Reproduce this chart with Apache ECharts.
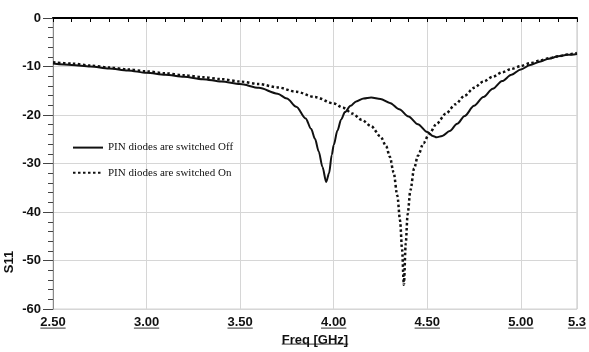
<!DOCTYPE html>
<html><head><meta charset="utf-8">
<script src="https://cdn.jsdelivr.net/npm/echarts@6/dist/echarts.min.js"></script>
<style>html,body{margin:0;padding:0;background:#fff}#c{width:589px;height:352px}</style>
</head><body><div id="c"></div>
<script>
// Reflection coefficient S11 (dB) versus frequency (GHz) for the two diode states
const seriesNames = ['PIN diodes are switched Off', 'PIN diodes are switched On'];

const freqOff = [2.50,2.60,2.70,2.80,2.90,3.00,3.10,3.20,3.30,3.40,3.50,3.60,3.70,3.75,3.80,3.85,3.88,3.90,3.92,3.94,3.96,3.975,3.99,4.00,4.02,4.04,4.06,4.09,4.12,4.16,4.20,4.25,4.30,4.35,4.40,4.45,4.50,4.53,4.55,4.58,4.62,4.66,4.70,4.75,4.80,4.85,4.90,4.95,5.00,5.05,5.10,5.15,5.20,5.25,5.30];
const s11Off  = [-9.4,-9.7,-10.0,-10.4,-10.8,-11.3,-11.7,-12.1,-12.6,-13.1,-13.6,-14.4,-15.6,-16.6,-18.3,-20.7,-22.9,-24.9,-27.5,-30.7,-33.8,-32.0,-28.2,-26.2,-23.2,-20.9,-19.4,-18.1,-17.2,-16.6,-16.4,-16.7,-17.5,-18.8,-20.3,-21.9,-23.5,-24.3,-24.6,-24.3,-23.3,-21.8,-20.2,-18.1,-16.3,-14.6,-13.0,-11.7,-10.6,-9.7,-9.0,-8.4,-7.9,-7.6,-7.4];

const freqOn = [2.50,2.60,2.70,2.80,2.90,3.00,3.10,3.20,3.30,3.40,3.50,3.60,3.70,3.80,3.90,4.00,4.05,4.10,4.15,4.20,4.25,4.28,4.30,4.32,4.34,4.355,4.365,4.375,4.385,4.395,4.41,4.43,4.45,4.48,4.51,4.55,4.60,4.65,4.70,4.75,4.80,4.85,4.90,4.95,5.00,5.05,5.10,5.15,5.20,5.25,5.30];
const s11On  = [-9.1,-9.4,-9.8,-10.2,-10.6,-11.0,-11.4,-11.8,-12.2,-12.6,-13.1,-13.6,-14.3,-15.2,-16.3,-17.6,-18.5,-19.7,-21.0,-22.3,-24.4,-26.4,-28.6,-31.8,-36.6,-41.8,-47.5,-55.0,-46.5,-40.5,-35.5,-31.0,-28.4,-25.8,-23.9,-21.8,-19.7,-17.8,-16.0,-14.4,-13.1,-12.1,-11.2,-10.5,-9.9,-9.3,-8.8,-8.3,-7.9,-7.5,-7.2];

const xLabelValues = [2.5, 3.0, 3.5, 4.0, 4.5, 5.0, 5.3];
const xLabelTexts  = ['2.50', '3.00', '3.50', '4.00', '4.50', '5.00', '5.3'];

const tickFont = '"Liberation Sans Narrow","Arial Narrow","Liberation Sans",Arial,sans-serif';
const tickSize = 13;

function toPairs(xs, ys) { return xs.map((x, i) => [x, ys[i]]); }

function xLabel(v) {
  for (let i = 0; i < xLabelValues.length; i++) {
    if (Math.abs(v - xLabelValues[i]) < 1e-6) return xLabelTexts[i];
  }
  return '';
}

const chart = echarts.init(document.getElementById('c'), null, { renderer: 'canvas' });

const option = {
  animation: false,
  backgroundColor: '#fff',
  grid: { left: 53, right: 8, top: 18, bottom: 39, show: true, borderColor: '#c8c8c8', borderWidth: 1 },
  legend: {
    orient: 'vertical', left: 67, top: 137, itemWidth: 30, itemHeight: 14, itemGap: 14,
    textStyle: { fontFamily: '"Liberation Serif","Times New Roman",serif', fontSize: 11, color: '#111' },
    itemStyle: { opacity: 0 },
    data: seriesNames
  },
  xAxis: [{
    type: 'value', min: 2.5, max: 5.3, interval: 0.1, position: 'bottom',
    axisLine: { show: true, lineStyle: { color: '#000', width: 2 } },
    axisTick: { show: true, length: 4, lineStyle: { color: '#000', width: 1 } },
    splitLine: { show: false },
    axisLabel: { show: true, margin: 7, formatter: xLabel, color: '#111', fontFamily: tickFont, fontWeight: 'bold', fontSize: tickSize, showMaxLabel: true, hideOverlap: false },
    name: 'Freq [GHz]', nameLocation: 'middle', nameGap: 21,
    nameTextStyle: { color: '#111', fontFamily: tickFont, fontWeight: 'bold', fontSize: tickSize }
  }, {
    type: 'value', min: 2.5, max: 5.3, interval: 0.5, position: 'top',
    axisLine: { show: true, lineStyle: { color: '#000', width: 1.5 } },
    axisTick: { show: false }, axisLabel: { show: false },
    splitLine: { show: true, lineStyle: { color: '#d6d6d6', width: 1 } }
  }],
  yAxis: {
    type: 'value', min: -60, max: 0, interval: 10,
    axisLine: { show: true, onZero: false, lineStyle: { color: '#8a8a8a', width: 1 } },
    axisTick: { show: true, length: 10, lineStyle: { color: '#444' } },
    minorTick: { show: true, splitNumber: 5, length: 5, lineStyle: { color: '#444' } },
    splitLine: { show: true, lineStyle: { color: '#d6d6d6', width: 1 } },
    axisLabel: { margin: 12, color: '#111', fontFamily: tickFont, fontWeight: 'bold', fontSize: tickSize }
  },
  series: [{
    name: seriesNames[0], type: 'line', xAxisIndex: 0, data: toPairs(freqOff, s11Off),
    symbol: 'none', smooth: 0.3, smoothMonotone: 'x',
    lineStyle: { color: '#111', width: 2 }, itemStyle: { color: '#111' }
  }, {
    name: seriesNames[1], type: 'line', xAxisIndex: 0, data: toPairs(freqOn, s11On),
    symbol: 'none', smooth: 0.3, smoothMonotone: 'x',
    lineStyle: { color: '#111', width: 2.5, type: [2.5, 2.5], cap: 'butt' }, itemStyle: { color: '#111' }
  }]
};
chart.setOption(option);

// Underlined tick labels and axis title, plus the rotated y-axis title
const measureCtx = document.createElement('canvas').getContext('2d');
measureCtx.font = 'bold ' + tickSize + 'px ' + tickFont;
const grid = chart.getModel().getComponent('grid').coordinateSystem.getRect();
const axisY = grid.y + grid.height;
const graphics = [];
xLabelValues.forEach((v, i) => {
  const cx = chart.convertToPixel({ xAxisIndex: 0 }, v);
  const w = measureCtx.measureText(xLabelTexts[i]).width;
  graphics.push({ type: 'line', shape: { x1: cx - w / 2, y1: axisY + 19, x2: cx + w / 2, y2: axisY + 19 }, style: { stroke: '#333', lineWidth: 1 } });
});
const nameW = measureCtx.measureText('Freq [GHz]').width;
const midX = grid.x + grid.width / 2;
graphics.push({ type: 'line', shape: { x1: midX - nameW / 2, y1: axisY + 35, x2: midX + nameW / 2, y2: axisY + 35 }, style: { stroke: '#333', lineWidth: 1 } });
graphics.push({ type: 'text', x: 9, y: 262, rotation: Math.PI / 2,
  style: { text: 'S11', fill: '#111', font: 'bold ' + tickSize + 'px ' + tickFont, align: 'center', verticalAlign: 'middle' } });
chart.setOption({ graphic: graphics });
</script>
</body></html>
